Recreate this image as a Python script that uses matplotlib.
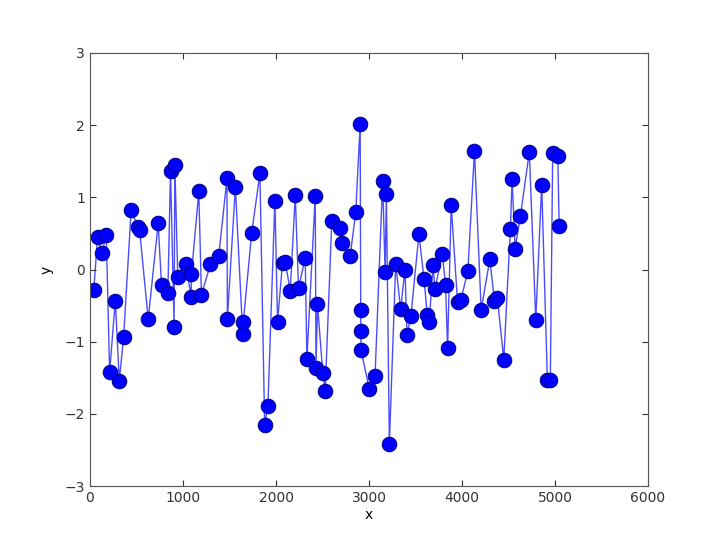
import matplotlib
matplotlib.use("Agg")
import matplotlib.pyplot as plt

x = [40, 82, 129, 175, 211, 272, 315, 361, 443, 511, 533, 626, 733, 769, 837,
     866, 904, 912, 944, 1033, 1087, 1091, 1170, 1198, 1295, 1384, 1473, 1477,
     1563, 1642, 1649, 1738, 1827, 1878, 1913, 1988, 2017, 2070, 2100, 2153,
     2207, 2242, 2314, 2332, 2422, 2430, 2446, 2503, 2529, 2600, 2690, 2715,
     2797, 2857, 2905, 2911, 2913, 2915, 3004, 3065, 3147, 3173, 3187, 3219,
     3287, 3340, 3387, 3409, 3451, 3537, 3591, 3627, 3648, 3688, 3709, 3788,
     3823, 3845, 3884, 3952, 3988, 4063, 4134, 4206, 4299, 4349, 4381, 4449,
     4520, 4539, 4571, 4628, 4724, 4793, 4857, 4918, 4950, 4975, 5030, 5045]
y = [-0.29, 0.45, 0.23, 0.48, -1.42, -0.43, -1.54, -0.94, 0.83, 0.59, 0.55,
     -0.69, 0.64, -0.22, -0.33, 1.37, -0.79, 1.45, -0.10, 0.07, -0.38, -0.06,
     1.08, -0.35, 0.07, 0.19, 1.26, -0.69, 1.14, -0.89, -0.72, 0.50, 1.33,
     -2.15, -1.89, 0.95, -0.72, 0.09, 0.11, -0.30, 1.03, -0.26, 0.16, -1.24,
     1.02, -1.37, -0.48, -1.43, -1.68, 0.67, 0.57, 0.36, 0.18, 0.79, 2.01,
     -0.56, -0.85, -1.12, -1.66, -1.47, 1.23, -0.03, 1.04, -2.41, 0.08, -0.55,
     0.00, -0.91, -0.64, 0.49, -0.13, -0.63, -0.73, 0.06, -0.27, 0.22, -0.21,
     -1.09, 0.89, -0.45, -0.42, -0.02, 1.64, -0.56, 0.14, -0.43, -0.40, -1.25,
     0.56, 1.25, 0.29, 0.74, 1.63, -0.70, 1.17, -1.53, -1.53, 1.61, 1.57, 0.60]

fig = plt.figure(figsize=(7.2, 5.39), dpi=100, facecolor="white")
ax = fig.add_axes([0.125, 0.098, 0.775, 0.804])
ax.plot(x, y, color="#0000ff", linewidth=1.0, alpha=0.7, zorder=1)
ax.plot(x, y, linestyle="none", marker="o", markersize=10.5,
        markerfacecolor="#0000ff", markeredgecolor="#000080",
        markeredgewidth=0.7, zorder=2)
ax.set_xlim(0, 6000)
ax.set_ylim(-3, 3)
ax.set_xticks([0, 1000, 2000, 3000, 4000, 5000, 6000])
ax.set_yticks([-3, -2, -1, 0, 1, 2, 3])
ax.tick_params(direction="in", top=True, right=True, length=4, labelsize=10,
               colors="#333333")
for s in ax.spines.values():
    s.set_color("#555555")
ax.set_xlabel("x", fontsize=10, labelpad=2)
ax.set_ylabel("y", fontsize=10, labelpad=8)
fig.savefig("out.png", dpi=100, facecolor="white")
